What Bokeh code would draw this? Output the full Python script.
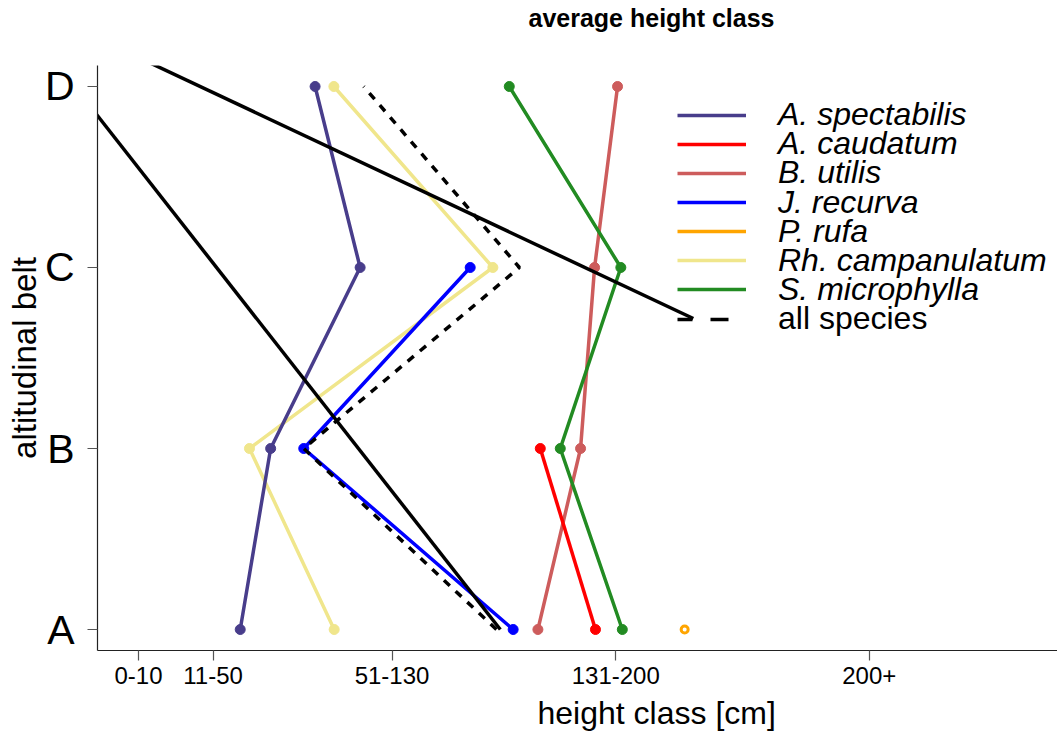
from bokeh.plotting import figure
from bokeh.models import Range1d, FixedTicker, Legend, LegendItem, Title
from bokeh.embed import file_html
from bokeh.resources import INLINE

# ---------------- data ----------------
belt_labels = ["A", "B", "C", "D"]
belt_pos = [1, 2, 3, 4]
class_labels = ["0-10", "11-50", "51-130", "131-200", "200+"]
class_pos = [5, 30, 90, 165, 250]

# average height class per altitudinal belt (A, B, C, D)
spectabilis_y = [1, 2, 3, 4]
spectabilis_x = [39.1, 49.3, 79.3, 64.2]
caudatum_y = [1, 2]
caudatum_x = [158.2, 139.7]
utilis_y = [1, 2, 3, 4]
utilis_x = [138.9, 153.2, 157.9, 165.6]
recurva_y = [1, 2, 3]
recurva_x = [130.6, 60.4, 116.2]
rufa_y = [1]
rufa_x = [188.1]
campanulatum_y = [1, 2, 3, 4]
campanulatum_x = [70.6, 42.2, 123.8, 70.5]
microphylla_y = [1, 2, 3, 4]
microphylla_x = [167.2, 146.4, 166.7, 129.3]
all_y = [1, 2, 3, 4]
all_x = [125.0, 60.4, 132.7, 80.5]

# trend lines
trend1_x = [126.3, -16.4]
trend1_y = [1.0, 4.0]
trend2_x = [-0.15, 191.0]
trend2_y = [4.2, 2.718]

legend_labels = ["A. spectabilis", "A. caudatum", "B. utilis", "J. recurva",
                 "P. rufa", "Rh. campanulatum", "S. microphylla", "all species"]

FONT = "Liberation Sans"

p = figure(width=1057, height=736,
           x_range=Range1d(-8.75, 313.1), y_range=Range1d(0.884, 4.116),
           output_backend="svg", toolbar_location=None,
           min_border_left=97, min_border_right=0, min_border_top=65,
           min_border_bottom=86)
p.outline_line_color = None
p.xgrid.visible = False
p.ygrid.visible = False
p.background_fill_color = "white"
p.border_fill_color = "white"
p.title.visible = False

# axes
for ax in (p.xaxis[0], p.yaxis[0]):
    ax.axis_line_color = "#222222"
    ax.axis_line_width = 1.2
    ax.major_tick_line_color = "#555555"
    ax.major_tick_line_width = 1.2
    ax.major_tick_in = 0
    ax.major_tick_out = 10
    ax.minor_tick_line_color = None
    ax.major_label_text_font = FONT
    ax.major_label_text_color = "black"

p.yaxis.ticker = FixedTicker(ticks=belt_pos)
p.yaxis.major_label_overrides = {pos: lab for pos, lab in zip(belt_pos, belt_labels)}
p.yaxis.major_label_text_font_size = "41px"
p.yaxis.major_label_standoff = 13
p.yaxis.axis_label = "altitudinal belt"
p.yaxis.axis_label_text_font = FONT
p.yaxis.axis_label_text_font_size = "33px"
p.yaxis.axis_label_text_font_style = "normal"
p.yaxis.axis_label_text_color = "black"
p.yaxis.axis_label_standoff = -1

p.xaxis.ticker = FixedTicker(ticks=class_pos)
p.xaxis.major_label_overrides = {pos: lab for pos, lab in zip(class_pos, class_labels)}
p.xaxis.major_label_text_font_size = "24px"
p.xaxis.major_label_standoff = 6

# title (above) and x-axis label (below), both off-centre like the reference;
# blank spacer titles sit between them and the plot area
p.add_layout(Title(text=" ", text_font_size="26px", standoff=0), "above")
p.add_layout(Title(text="average height class", align="left", offset=431,
                   vertical_align="top", standoff=0, text_font=FONT,
                   text_font_size="25px", text_font_style="bold",
                   text_color="black"), "above")
p.add_layout(Title(text=" ", text_font_size="6px", standoff=0), "below")
p.add_layout(Title(text="height class [cm]", align="left", offset=440,
                   vertical_align="top", standoff=0, text_font=FONT,
                   text_font_size="32px", text_font_style="normal",
                   text_color="black"), "below")

# ---------------- glyphs ----------------
LW = 3.5
MS = 10

def series(xs, ys, color):
    r = p.line(xs, ys, line_color=color, line_width=LW)
    p.scatter(xs, ys, marker="circle", size=MS, fill_color=color, line_color=color)
    return r

r_camp = series(campanulatum_x, campanulatum_y, "#F0E68C")
r_spec = series(spectabilis_x, spectabilis_y, "#483D8B")
r_util = series(utilis_x, utilis_y, "#CD5C5C")
r_caud = series(caudatum_x, caudatum_y, "#FF0000")
r_micro = series(microphylla_x, microphylla_y, "#228B22")
r_rec = series(recurva_x, recurva_y, "#0000FF")
r_rufa = p.line(rufa_x, rufa_y, line_color="#FFA500", line_width=LW)
p.scatter(rufa_x, rufa_y, marker="circle", size=7, fill_color="white",
          line_color="#FFA500", line_width=3)

p.line(all_x, all_y, line_color="black", line_width=LW, line_dash="8 8")
p.line(trend1_x, trend1_y, line_color="black", line_width=LW)
p.line(trend2_x, trend2_y, line_color="black", line_width=LW)

# single-point line: draws nothing in the plot, only the legend key
r_all_leg = p.line(all_x[:1], all_y[:1], line_color="black", line_width=LW,
                   line_dash="18 18", line_dash_offset=3)

renderers = [r_spec, r_caud, r_util, r_rec, r_rufa, r_camp, r_micro, r_all_leg]

# one legend per row so the rows can be spaced as tightly as in the reference
ROW0 = 115.0      # centre of first row, px from top
ROW_STEP = 29.14  # row spacing, px
ROW_H = 36.3      # height Bokeh gives one legend row at this font size
FRAME_BOTTOM = 650
for i, (lab, rend) in enumerate(zip(legend_labels, renderers)):
    centre = ROW0 + i * ROW_STEP
    leg = Legend(items=[LegendItem(label=lab, renderers=[rend])],
                 location=(580, FRAME_BOTTOM - centre - ROW_H / 2),
                 padding=0, margin=0, spacing=0, glyph_width=69,
                 glyph_height=20, label_height=20, label_standoff=32,
                 border_line_alpha=0, background_fill_alpha=0,
                 label_text_font=FONT, label_text_font_size="32px",
                 label_text_color="black",
                 label_text_font_style="normal" if lab == "all species" else "italic")
    p.add_layout(leg)

open("out.html", "w").write(file_html(p, INLINE))
